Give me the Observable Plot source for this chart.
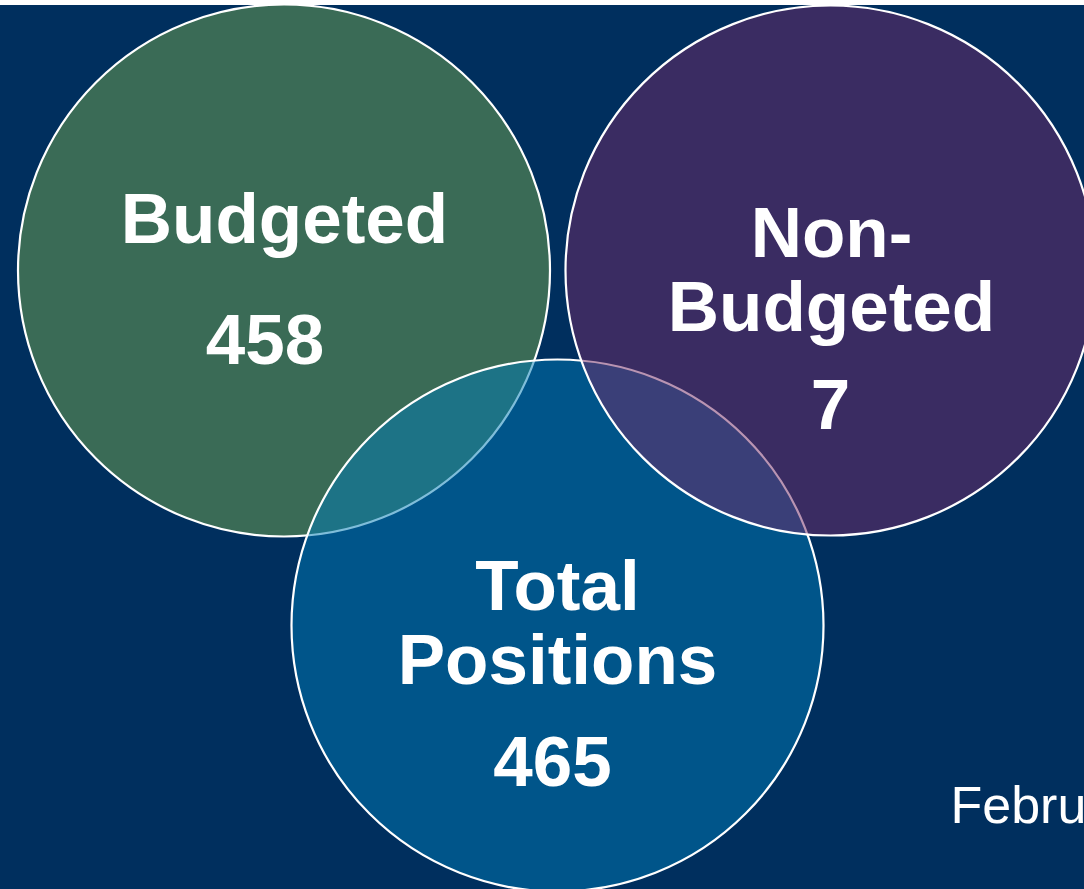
<!DOCTYPE html>
<html><head><meta charset="utf-8">
<script src="https://cdn.jsdelivr.net/npm/d3@7"></script>
<script src="https://cdn.jsdelivr.net/npm/@observablehq/plot@0.6"></script>
<style>
html,body{margin:0;padding:0;background:#fff;overflow:hidden}
#chart{padding-top:5px;width:1084px;height:884px;overflow:hidden}
#chart svg{display:block;background:#002f5e}
</style></head><body><div id="chart"></div>
<script>
// Data
const categories = ["Budgeted", "Non-Budgeted", "Total Positions"];
const labels = ["Budgeted", "Non-\nBudgeted", "Total\nPositions"];
const counts = [458, 7, 465];
const note = ["February"];

// Layout (page pixel units) and styles, kept apart from data
const circleX = [283.5, 830, 557];
const circleY = [270, 270, 625];
const circleR = [266, 265, 266];
const labelX = [284, 831, 557];
const labelY = [242, 330, 683];
const numX = [264.5, 830, 552];
const numY = [363, 428, 785];
const fills = ["#3a6b56", "#742965", "#007bb5"];
const fillOps = [1, 0.5, 0.5];
const layer = [0, 2, 1]; // draw order: green, blue, purple

const table = categories.map((c, i) => ({
  category: c, label: labels[i], count: String(counts[i]),
  cx: circleX[i], cy: circleY[i], r: circleR[i],
  lx: labelX[i], ly: labelY[i], nx: numX[i], ny: numY[i],
  fill: fills[i], op: fillOps[i], layer: layer[i]
})).sort((a, b) => a.layer - b.layer);

const font = "'Liberation Sans', Arial, Helvetica, sans-serif";

const chart = Plot.plot({
  width: 1084,
  height: 884,
  margin: 0,
  x: {type: "linear", domain: [0, 1084], range: [0, 1084], axis: null},
  y: {type: "linear", domain: [5, 889], range: [0, 884], axis: null},
  r: {type: "identity"},
  opacity: {type: "identity"},
  style: {background: "#002f5e", fontFamily: font, overflow: "hidden"},
  marks: [
    Plot.dot(table, {
      x: "cx", y: "cy", r: "r",
      fill: "fill", fillOpacity: "op",
      stroke: "white", strokeWidth: 2.2, strokeOpacity: 1
    }),
    Plot.text(table, {
      x: "lx", y: "ly", text: "label",
      fill: "white", fontSize: 71, fontWeight: "bold", fontFamily: font,
      textAnchor: "middle", lineAnchor: "bottom", lineHeight: 1.04
    }),
    Plot.text(table, {
      x: "nx", y: "ny", text: "count",
      fill: "white", fontSize: 71, fontWeight: "bold", fontFamily: font,
      textAnchor: "middle", lineAnchor: "bottom"
    }),
    Plot.text(note, {
      x: () => 950, y: () => 822, text: d => d,
      fill: "white", fontSize: 52, fontFamily: font,
      textAnchor: "start", lineAnchor: "bottom"
    })
  ]
});
document.getElementById("chart").appendChild(chart);
</script></body></html>
